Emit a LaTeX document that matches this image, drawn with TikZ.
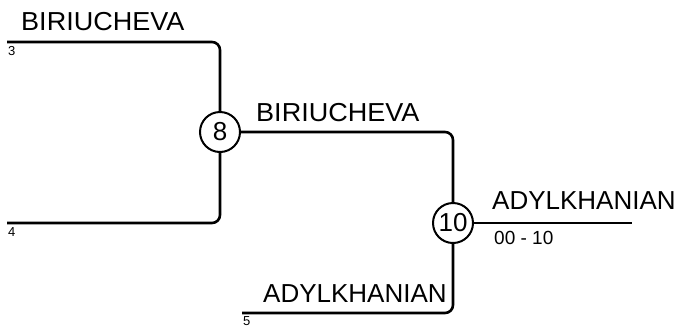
\documentclass[tikz,border=0pt]{standalone}
\usepackage{fontspec}
\setmainfont{Liberation Sans}
\newfontfamily\widesans[FakeStretch=1.04]{Liberation Sans}
\begin{document}
\begin{tikzpicture}[x=1bp,y=-1bp,
  player/.style={anchor=base west,inner sep=0pt,font=\fontsize{26bp}{30bp}\selectfont},
  playerwide/.style={player,font=\widesans\fontsize{26bp}{30bp}\selectfont},
  seedno/.style={anchor=base west,inner sep=0pt,font=\fontsize{13bp}{15bp}\selectfont},
  scoretxt/.style={anchor=base west,inner sep=0pt,font=\fontsize{19bp}{22bp}\selectfont},
  matchc/.style={circle,draw,line width=2bp,minimum size=40bp,inner sep=0pt,font=\fontsize{26bp}{30bp}\selectfont},
  wire/.style={line width=2.6bp,rounded corners=8bp}]
\useasboundingbox (0,0) rectangle (680,327);
\node[matchc] (m8) at (220,132) {8};
\node[matchc] (m10) at (453,223) {10};
\coordinate (s3) at (7,42);
\coordinate (s4) at (7,223);
\coordinate (s5) at (242,313);
\coordinate (fin) at (632,223);
\draw[wire] (s3) -- (m8 |- s3) -- (m8);
\draw[wire] (s4) -- (m8 |- s4) -- (m8);
\draw[wire] (m8) -- (m10 |- m8) -- (m10);
\draw[wire] (s5) -- (m10 |- s5) -- (m10);
\draw[wire] (m10) -- (fin);
\node[playerwide] (t3) at (21,30) {BIRIUCHEVA};
\node[playerwide] (t8) at (256,121) {BIRIUCHEVA};
\node[player] (t5) at (263,302) {ADYLKHANIAN};
\node[player] (t10) at (492,209) {ADYLKHANIAN};
\node[seedno] (n3) at (8,55) {3};
\node[seedno] (n4) at (8,236) {4};
\node[seedno] (n5) at (243,325.5) {5};
\node[scoretxt] (sc) at (494,244) {00 - 10};
\end{tikzpicture}
\end{document}
